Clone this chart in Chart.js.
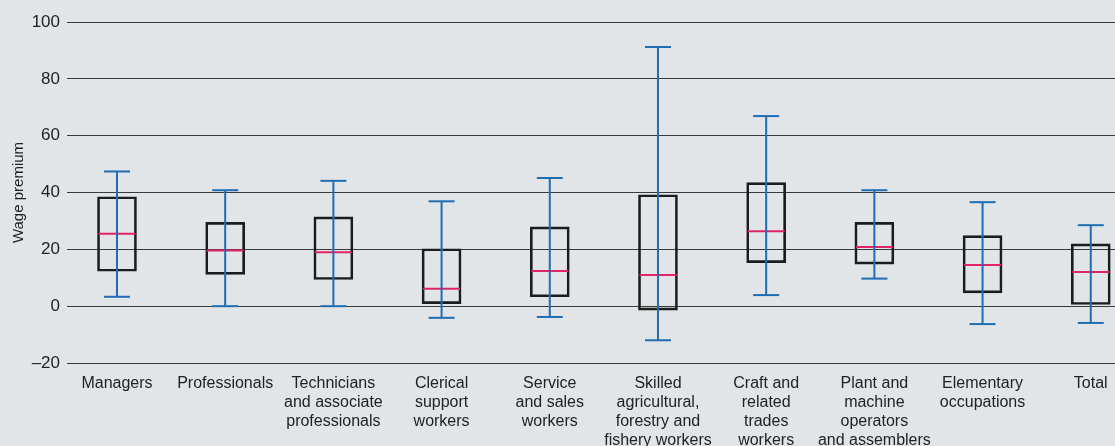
<!DOCTYPE html>
<html lang="en">
  <head>
    <meta charset="UTF-8" />
    <title>Wage premium by occupation</title>
    <script src="https://cdn.jsdelivr.net/npm/chart.js"></script>
    <style>
      html,
      body {
        margin: 0;
        padding: 0;
        overflow: hidden;
        background: #e2e5e7;
      }
      #chartContainer {
        position: relative;
        width: 1115px;
        height: 446px;
      }
    </style>
  </head>
  <body>
    <div id="chartContainer">
      <canvas id="wageChart"></canvas>
    </div>

    <script>
      const categories = [
        ["Managers"],
        ["Professionals"],
        ["Technicians", "and associate", "professionals"],
        ["Clerical", "support", "workers"],
        ["Service", "and sales", "workers"],
        ["Skilled", "agricultural,", "forestry and", "fishery workers"],
        ["Craft and", "related", "trades", "workers"],
        ["Plant and", "machine", "operators", "and assemblers"],
        ["Elementary", "occupations"],
        ["Total"],
      ];

      const whiskerLow = [3.3, 0, 0, -4.1, -3.8, -12.0, 3.9, 9.7, -6.3, -5.9];
      const boxLow = [12.3, 11.2, 9.4, 0.9, 3.3, -1.4, 15.3, 14.8, 4.7, 0.6];
      const medians = [25.5, 19.6, 19.0, 6.1, 12.4, 11.0, 26.4, 20.8, 14.5, 12.0];
      const boxHigh = [38.5, 29.5, 31.4, 20.2, 27.9, 39.2, 43.5, 29.5, 24.8, 21.9];
      const whiskerHigh = [47.4, 40.8, 44.1, 36.9, 45.1, 91.2, 66.9, 40.8, 36.6, 28.5];

      const yTicks = [-20, 0, 20, 40, 60, 80, 100];

      const BLUE = "#1f6db3";
      const PINK = "#e0236c";
      const FONT = "'Liberation Sans', Arial, sans-serif";

      const boxes = categories.map((c, i) => ({ x: i, y: [boxLow[i], boxHigh[i]] }));
      const medianPts = categories.map((c, i) => ({ x: i, y: medians[i] }));
      const whiskerPts = [];
      const capPts = [];
      categories.forEach((c, i) => {
        whiskerPts.push({ x: i, y: whiskerLow[i] });
        whiskerPts.push({ x: i, y: whiskerHigh[i] });
        whiskerPts.push({ x: i, y: null });
        capPts.push({ x: i, y: whiskerLow[i] });
        capPts.push({ x: i, y: whiskerHigh[i] });
      });

      const ctx = document.getElementById("wageChart").getContext("2d");
      new Chart(ctx, {
        type: "bar",
        data: {
          datasets: [
            {
              type: "line",
              data: medianPts,
              showLine: false,
              pointStyle: "line",
              pointRadius: 18.5,
              pointBorderWidth: 2,
              pointBorderColor: PINK,
              clip: false,
              order: 3,
            },
            {
              type: "bar",
              data: boxes,
              backgroundColor: "rgba(0,0,0,0)",
              borderColor: "#1c1c1c",
              borderWidth: 2,
              borderSkipped: false,
              barThickness: 39,
              order: 4,
            },
            {
              type: "line",
              data: whiskerPts,
              borderColor: BLUE,
              borderWidth: 2,
              pointRadius: 0,
              spanGaps: false,
              order: 2,
            },
            {
              type: "line",
              data: capPts,
              showLine: false,
              pointStyle: "line",
              pointRadius: 13,
              pointBorderWidth: 2,
              pointBorderColor: BLUE,
              clip: false,
              order: 1,
            },
          ],
        },
        options: {
          responsive: true,
          maintainAspectRatio: false,
          animation: false,
          layout: {
            autoPadding: false,
            padding: { top: 22, right: 0, bottom: 0, left: 0 },
          },
          plugins: {
            legend: { display: false },
            tooltip: { enabled: false },
          },
          scales: {
            x: {
              type: "linear",
              offset: false,
              min: -0.462,
              max: 9.224,
              grid: { display: false, offset: false },
              border: { display: false },
              afterBuildTicks: (scale) => {
                scale.ticks = categories.map((c, i) => ({ value: i }));
              },
              afterFit: (scale) => {
                scale.height = 83;
                scale.paddingLeft = 0;
                scale.paddingRight = 0;
              },
              ticks: {
                autoSkip: false,
                maxRotation: 0,
                padding: 3,
                color: "#222",
                font: { family: FONT, size: 16, lineHeight: "19px" },
                callback: (v) => categories[v],
              },
            },
            y: {
              min: -20,
              max: 100,
              afterBuildTicks: (scale) => {
                scale.ticks = yTicks.map((v) => ({ value: v }));
              },
              afterFit: (scale) => {
                scale.width = 67;
              },
              border: { display: false },
              grid: {
                color: "#3a3a3a",
                lineWidth: 1,
                drawTicks: false,
              },
              ticks: {
                padding: 7,
                color: "#222",
                font: { family: FONT, size: 17 },
                callback: (v) => (v < 0 ? "\u2013" + Math.abs(v) : v),
              },
              title: {
                display: true,
                text: "Wage premium",
                color: "#222",
                font: { family: FONT, size: 15 },
                padding: { top: 10, bottom: 0 },
              },
            },
          },
        },
      });
    </script>
  </body>
</html>
